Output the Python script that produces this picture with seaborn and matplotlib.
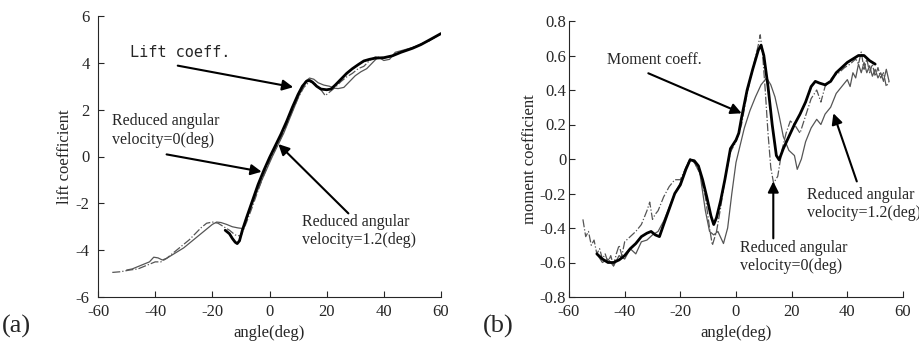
import matplotlib
matplotlib.use("Agg")
import matplotlib.pyplot as plt
import seaborn as sns
import pandas as pd

# ---------------- (a) lift coefficient ----------------
lift_thick_x = [-15.5, -14, -13, -12, -11.3, -10.5, -9.5, -8, -6, -4, -2, 0, 2, 4, 6, 8, 10, 11.5, 13, 14, 15,
                16.5, 18, 20, 21.5, 23, 25, 27, 29, 31, 33, 35, 37, 40, 43, 46, 50, 53, 56, 60]
lift_thick_y = [-3.15, -3.3, -3.5, -3.66, -3.72, -3.6, -3.15, -2.6, -1.9, -1.2, -0.6, -0.05, 0.45, 0.95, 1.5,
                2.1, 2.65, 3.0, 3.22, 3.25, 3.18, 3.0, 2.88, 2.85, 2.88, 3.05, 3.3, 3.55, 3.75, 3.92, 4.08,
                4.15, 4.2, 4.22, 4.3, 4.45, 4.62, 4.78, 4.98, 5.25]

lift_thin_x = [-50, -48, -46, -44, -42, -40.5, -39, -37.5, -36, -34, -32, -30, -28, -26, -24, -22, -20, -18.5,
               -17, -15, -13, -11, -9.2, -7.5, -5, -3, -1, 1, 3, 5, 7, 9, 11, 12.5, 14, 15.5, 17, 19, 21,
               22.5, 24, 26, 28, 30, 32, 34, 36, 38, 40, 42, 44, 47, 50, 53, 56, 60]
lift_thin_y = [-4.85, -4.8, -4.7, -4.6, -4.5, -4.3, -4.33, -4.42, -4.35, -4.2, -4.05, -3.9, -3.7, -3.5, -3.3,
               -3.1, -2.9, -2.8, -2.82, -2.9, -3.0, -3.05, -3.08, -2.5, -1.7, -1.1, -0.55, 0.0, 0.5, 1.0,
               1.6, 2.2, 2.8, 3.2, 3.35, 3.3, 3.15, 3.05, 3.0, 2.92, 2.9, 2.95, 3.2, 3.45, 3.62, 3.75,
               4.0, 4.25, 4.1, 4.15, 4.45, 4.55, 4.65, 4.8, 4.95, 5.25]

lift_dash_x = [-55, -52, -49, -46, -44, -42, -40, -38, -36, -34, -32, -30, -28, -26, -24, -22, -20, -18, -16,
               -14, -12, -10, -8, -6, -4, -2, 0, 2, 4, 6, 8, 10, 12, 14, 16, 18, 19.5, 21, 23, 25, 27, 29,
               31, 33, 35, 37, 40, 43, 46, 49, 52, 56, 60]
lift_dash_y = [-4.95, -4.92, -4.85, -4.8, -4.7, -4.6, -4.5, -4.5, -4.35, -4.15, -3.95, -3.75, -3.55, -3.3,
               -3.05, -2.85, -2.8, -2.85, -3.0, -3.15, -3.35, -3.4, -2.8, -2.15, -1.45, -0.8, -0.2, 0.3,
               0.8, 1.35, 1.95, 2.5, 2.95, 3.2, 3.1, 2.85, 2.6, 2.75, 2.95, 3.2, 3.4, 3.55, 3.75, 3.85,
               4.1, 4.25, 4.2, 4.3, 4.45, 4.6, 4.75, 4.95, 5.25]

# ---------------- (b) moment coefficient ----------------
mom_thick_x = [-50, -48, -46, -44, -42, -40, -38, -36, -34, -32, -30.5, -29, -27.5, -26, -24, -22, -20, -18,
               -16.5, -15, -13.5, -12, -10.5, -9, -8, -7, -5.5, -4, -2, 0, 1, 2, 4, 6, 8, 9, 10, 11.5, 13,
               14.5, 15.5, 17, 19, 21, 23, 25, 27, 28.5, 30, 32, 34, 36, 38, 40, 42, 44, 46, 48, 50]
mom_thick_y = [-0.55, -0.58, -0.6, -0.6, -0.585, -0.56, -0.52, -0.49, -0.45, -0.43, -0.42, -0.44, -0.45,
               -0.38, -0.29, -0.2, -0.15, -0.06, -0.005, -0.01, -0.04, -0.12, -0.22, -0.33, -0.38, -0.34,
               -0.24, -0.12, 0.06, 0.11, 0.15, 0.24, 0.4, 0.52, 0.63, 0.66, 0.6, 0.42, 0.2, 0.02, -0.005,
               0.06, 0.13, 0.2, 0.26, 0.33, 0.42, 0.45, 0.44, 0.43, 0.45, 0.5, 0.53, 0.56, 0.58, 0.6, 0.6,
               0.57, 0.55]

mom_thin_x = [-50, -48, -46, -44, -42, -40, -38, -36, -34, -32, -30, -28, -26, -24, -22, -20, -18, -16.5,
              -15, -13, -11, -9.5, -8, -6.5, -4.5, -3, -1.5, 0, 1.5, 3, 5, 7, 9, 11, 12.5, 14, 15.5, 17, 19,
              21, 22, 23.5, 25, 27, 29, 30.5, 32, 34, 36, 38, 40, 41, 42, 43, 44, 45, 46, 47, 48, 49, 50,
              51, 52, 53, 54, 55]
mom_thin_y = [-0.55, -0.6, -0.58, -0.62, -0.56, -0.58, -0.52, -0.55, -0.48, -0.47, -0.44, -0.42, -0.36,
              -0.28, -0.2, -0.14, -0.05, 0.0, -0.02, -0.08, -0.3, -0.42, -0.44, -0.42, -0.49, -0.4, -0.2,
              -0.02, 0.08, 0.18, 0.28, 0.36, 0.43, 0.47, 0.43, 0.36, 0.25, 0.13, 0.05, 0.02, -0.06, 0.0,
              0.1, 0.18, 0.23, 0.2, 0.26, 0.3, 0.38, 0.42, 0.46, 0.42, 0.5, 0.47, 0.55, 0.5, 0.56, 0.5,
              0.54, 0.48, 0.52, 0.47, 0.5, 0.45, 0.52, 0.45]

mom_dash_x = [-55, -54, -53, -52, -51, -50, -49, -48, -47, -46, -45, -44, -43, -42, -41, -40, -38, -36, -34,
              -32, -31, -30, -29, -28, -26, -24, -22, -20, -18, -16.5, -15, -13, -11, -9.5, -8.5, -7, -5.5,
              -4, -2, 0, 2, 4, 6, 8, 8.7, 9.5, 10.5, 11.5, 12.5, 13.5, 15, 16.5, 18, 19.5, 21, 23, 25, 27,
              29, 30.5, 32, 33.5, 35, 37, 39, 41, 43, 44, 45, 46, 47, 48, 49, 50, 51, 52, 53, 54, 55]
mom_dash_y = [-0.35, -0.45, -0.42, -0.5, -0.47, -0.55, -0.52, -0.58, -0.55, -0.6, -0.56, -0.62, -0.55, -0.5,
              -0.56, -0.48, -0.45, -0.42, -0.38, -0.3, -0.25, -0.35, -0.32, -0.3, -0.22, -0.16, -0.12,
              -0.12, -0.05, 0.0, -0.02, -0.08, -0.22, -0.4, -0.5, -0.42, -0.28, -0.12, 0.04, 0.1, 0.2,
              0.38, 0.52, 0.66, 0.72, 0.62, 0.4, 0.15, -0.05, -0.14, -0.1, 0.05, 0.15, 0.22, 0.2, 0.15,
              0.25, 0.35, 0.4, 0.33, 0.42, 0.45, 0.48, 0.5, 0.53, 0.55, 0.58, 0.55, 0.62, 0.52, 0.58, 0.5,
              0.55, 0.48, 0.53, 0.47, 0.5, 0.42, 0.45]

x_ticks = [-60, -40, -20, 0, 20, 40, 60]
lift_ticks = [-6, -4, -2, 0, 2, 4, 6]
mom_ticks = [-0.8, -0.6, -0.4, -0.2, 0, 0.2, 0.4, 0.6, 0.8]
mom_ticklabels = ["-0.8", "-0.6", "-0.4", "-0.2", "0", "0.2", "0.4", "0.6", "0.8"]

sns.set_style("ticks")
plt.rcParams["font.family"] = ["Liberation Serif", "DejaVu Serif"]
plt.rcParams["xtick.direction"] = "in"
plt.rcParams["ytick.direction"] = "in"

fig = plt.figure(figsize=(9.19, 3.42), dpi=100)
axA = fig.add_axes([98 / 919, 1 - 297 / 342, (441 - 98) / 919, (297 - 16) / 342])
axB = fig.add_axes([569 / 919, 1 - 297 / 342, (903 - 569) / 919, (297 - 21) / 342])

gray = "#555555"
for ax, (tx, ty), (nx, ny), (dx, dy) in [
    (axA, (lift_thick_x, lift_thick_y), (lift_thin_x, lift_thin_y), (lift_dash_x, lift_dash_y)),
    (axB, (mom_thick_x, mom_thick_y), (mom_thin_x, mom_thin_y), (mom_dash_x, mom_dash_y)),
]:
    sns.lineplot(x=nx, y=ny, ax=ax, color=gray, lw=0.9, sort=False)
    sns.lineplot(x=dx, y=dy, ax=ax, color=gray, lw=0.9, sort=False, linestyle="-.")
    sns.lineplot(x=tx, y=ty, ax=ax, color="black", lw=2.0, sort=False)
    ax.set_xlim(-60, 60)
    ax.set_xticks(x_ticks)
    ax.set_xticklabels([str(v) for v in x_ticks])
    ax.tick_params(labelsize=12, length=4, width=0.8)
    ax.tick_params(axis="x", pad=5)
    for s in ["top", "right"]:
        ax.spines[s].set_visible(False)
    for s in ["left", "bottom"]:
        ax.spines[s].set_linewidth(0.8)
    ax.set_xlabel("angle(deg)", fontsize=12)
    ax.xaxis.set_label_coords(0.5, -0.1)

axA.tick_params(axis="y", pad=6)
axB.tick_params(axis="y", pad=2)

axA.set_ylim(-6, 6)
axA.set_yticks(lift_ticks)
axA.set_yticklabels([str(v) for v in lift_ticks])
axA.set_ylabel("lift coefficient", fontsize=12)
axA.yaxis.set_label_coords(-0.072, 0.5)

axB.set_ylim(-0.8, 0.8)
axB.set_yticks(mom_ticks)
axB.set_yticklabels(mom_ticklabels)
axB.set_ylabel("moment coefficient", fontsize=12)
axB.yaxis.set_label_coords(-0.092, 0.5)

arrow = dict(arrowstyle="-|>", lw=1.5, color="black", mutation_scale=16, shrinkA=0, shrinkB=0)

# annotations (a)
axA.text(-48.8, 4.46, "Lift coeff.", family="DejaVu Sans Mono", fontsize=11, va="center", ha="left")
axA.annotate("", xy=(8.3, 2.96), xytext=(-32.1, 3.88), arrowprops=arrow)
axA.text(-55.2, 1.85, "Reduced angular\nvelocity=0(deg)", fontsize=11.5, va="top", ha="left", linespacing=1.2)
axA.annotate("", xy=(-2.75, -0.65), xytext=(-36, 0.09), arrowprops=arrow)
axA.text(11.3, -2.45, "Reduced angular\nvelocity=1.2(deg)", fontsize=11.5, va="top", ha="left", linespacing=1.2)
axA.annotate("", xy=(3.1, 0.53), xytext=(27.6, -2.43), arrowprops=arrow)

# annotations (b)
axB.text(-46.5, 0.574, "Moment coeff.", fontsize=11.5, va="center", ha="left")
axB.annotate("", xy=(2.05, 0.265), xytext=(-31.5, 0.497), arrowprops=arrow)
axB.annotate("", xy=(13.4, -0.13), xytext=(13.4, -0.46), arrowprops=arrow)
axB.text(1.4, -0.47, "Reduced angular\nvelocity=0(deg)", fontsize=11.5, va="top", ha="left", linespacing=1.2)
axB.annotate("", xy=(35.0, 0.265), xytext=(43.4, -0.13), arrowprops=arrow)
axB.text(25.4, -0.16, "Reduced angular\nvelocity=1.2(deg)", fontsize=11.5, va="top", ha="left",
         linespacing=1.2, clip_on=False)

fig.text(2 / 919, 1 - 326 / 342, "(a)", fontsize=19, va="center", ha="left")
fig.text(483 / 919, 1 - 326 / 342, "(b)", fontsize=19, va="center", ha="left")

fig.savefig("out.png", dpi=100)
